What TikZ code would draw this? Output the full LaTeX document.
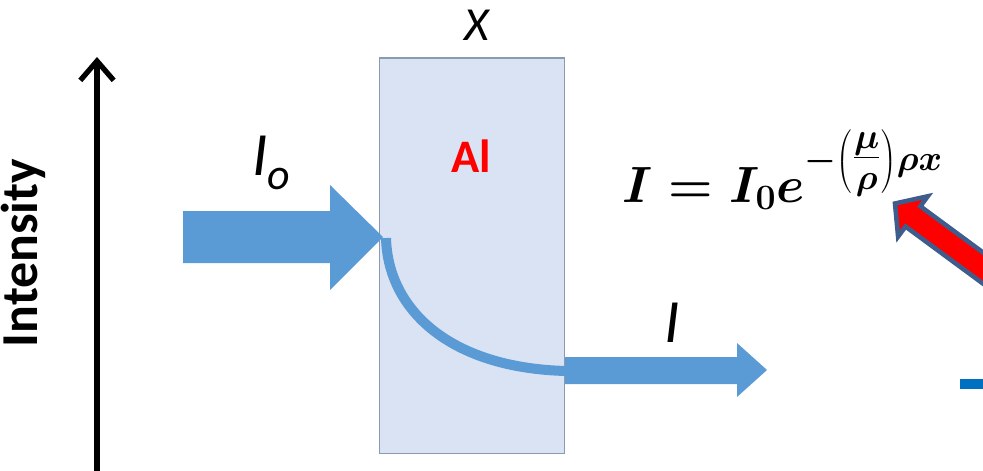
\RequirePackage{fix-cm}
\documentclass[tikz,border=0pt]{standalone}
\usepackage{fontspec}
\newfontfamily\carlito{Carlito}
\usetikzlibrary{arrows.meta}

\definecolor{beamblue}{RGB}{91,155,213}
\definecolor{slabfill}{RGB}{218,227,243}
\definecolor{slabedge}{RGB}{138,154,176}
\definecolor{pointerred}{RGB}{255,0,0}
\definecolor{pointeredge}{RGB}{62,92,140}
\definecolor{barblue}{RGB}{0,112,192}

\newsavebox{\lawbox}

\begin{document}
\sbox{\lawbox}{\fontsize{29}{30}\selectfont\boldmath$I = I_0 e^{-\left(\textstyle\frac{\mu}{\rho}\right)\rho x}$}%
\begin{tikzpicture}[
    x=0.02cm, y=-0.02cm,
    % Styles
    beam/.style={fill=beamblue, draw=none},
    slab/.style={rectangle, draw=slabedge, fill=slabfill, line width=1.1pt, minimum width=3.70cm, minimum height=7.92cm},
    axisline/.style={line width=3.4pt, -{Straight Barb[length=11pt, width=19pt, line width=3pt]}},
    txt/.style={inner sep=0pt, font=\carlito},
    pointer/.style={fill=pointerred, draw=pointeredge, line width=2.6pt, line join=miter}
]
    \clip (0,0) rectangle (983,470);

    % --- Intensity axis ---
    \coordinate (axisbot) at (97,475);
    \coordinate (axistop) at (97,57);
    \draw [axisline] (axisbot) -- (axistop);
    \node [txt, rotate=90, font=\carlito\bfseries\fontsize{29.5}{30}\selectfont] (intensity) at (23,253) {Intensity};

    % --- Absorber slab ---
    \node [slab] (slab) at (472,255.5) {};
    \node [txt, anchor=base, font=\carlito\itshape\fontsize{27}{28}\selectfont] (thick) at (477,40) {X};
    \node [txt, anchor=base, text=pointerred, font=\carlito\bfseries\fontsize{26.5}{28}\selectfont] (al) at (471,172) {Al};

    % --- Incident beam ---
    \fill [beam] (183,211) -- (330,211) -- (330,185) -- (383,237) -- (330,290) -- (330,263) -- (183,263) -- cycle;
    \node [txt, anchor=base west, font=\carlito\itshape\fontsize{35}{36}\selectfont] (izero) at (252,175)
        {I\raisebox{-8pt}{\fontsize{25}{26}\selectfont o}};

    % --- Decay inside the slab ---
    \coordinate (decaystart) at (386,238);
    \coordinate (decayend) at (566,371);
    \draw [beamblue, line width=5.7pt] (decaystart) .. controls (388,310) and (450,368) .. (decayend);

    % --- Transmitted beam ---
    \fill [beam] (565,357) -- (737,357) -- (737,343) -- (767,370) -- (737,397) -- (737,384) -- (565,384) -- cycle;
    \node [txt, anchor=base, font=\carlito\itshape\fontsize{35}{36}\selectfont] (iout) at (672,342) {I};

    % --- Attenuation law ---
    \node [anchor=base west, inner sep=0pt] (law) at (622,202) {\usebox{\lawbox}};

    % --- Red pointer ---
    \draw [pointer] (895,203.5) -- (927.7,196.3) -- (920.3,206.3) -- (1060.4,309.5)
        -- (1045.6,329.7) -- (905.5,226.5) -- (898.1,236.5) -- cycle;
    \fill [barblue] (960,379) rectangle (983,389);

\end{tikzpicture}
\end{document}
